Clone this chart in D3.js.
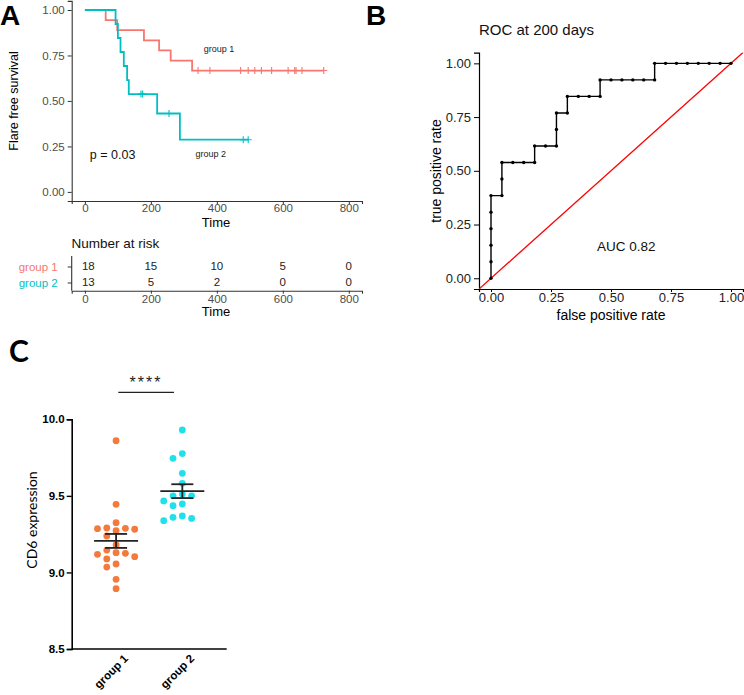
<!DOCTYPE html>
<html>
<head>
<meta charset="utf-8">
<script src="https://cdn.jsdelivr.net/npm/d3@7"></script>
<style>
  body { margin: 0; background: #fff; }
  svg { display: block; }
  text { font-family: "Liberation Sans", Arial, sans-serif; }
</style>
</head>
<body>
<div id="chart"></div>
<script>
// ---- panel A: Kaplan-Meier steps (time, survival) and censor times
const kmTimes1 = [0, 63, 98, 179, 225, 260, 325, 724];
const kmSurv1 = [1, 0.944, 0.889, 0.833, 0.778, 0.722, 0.667, 0.667];
const kmCensor1 = [343, 379, 472, 495, 515, 535, 566, 616, 636, 640, 658, 724];

const kmTimes2 = [0, 93, 100, 108, 118, 128, 133, 219, 288, 495];
const kmSurv2 = [1, 0.923, 0.846, 0.769, 0.692, 0.615, 0.538, 0.431, 0.287, 0.287];
const kmCensor2 = [170, 175, 255, 480, 495];

const kmGroups = ["group 1", "group 2"];
const riskTimes = [0, 200, 400, 600, 800];
const riskGroup1 = [18, 15, 10, 5, 0];
const riskGroup2 = [13, 5, 2, 0, 0];

// ---- panel B: ROC points (false positive rate, true positive rate)
const rocFpr = [0, 0, 0, 0, 0, 0,
  1/22, 1/22, 1/22, 2/22, 3/22, 4/22, 4/22, 5/22, 6/22, 6/22, 6/22,
  7/22, 7/22, 8/22, 9/22, 10/22, 10/22, 11/22, 12/22, 13/22, 14/22, 15/22,
  15/22, 16/22, 17/22, 18/22, 19/22, 20/22, 21/22, 1];
const rocTpr = [0, 1/13, 2/13, 3/13, 4/13, 5/13,
  5/13, 6/13, 7/13, 7/13, 7/13, 7/13, 8/13, 8/13, 8/13, 9/13, 10/13,
  10/13, 11/13, 11/13, 11/13, 11/13, 12/13, 12/13, 12/13, 12/13, 12/13, 12/13,
  1, 1, 1, 1, 1, 1, 1, 1];
const aucLabel = "AUC 0.82";

// ---- panel C: CD6 expression
const cdGroups = ["group 1", "group 2"];
const cd6Group1 = [9.86, 9.445, 9.325, 9.29, 9.288, 9.286, 9.282, 9.273, 9.238, 9.18,
  9.146, 9.129, 9.125, 9.118, 9.103, 9.088, 9.055, 9.035, 8.955, 8.894];
const cd6Group2 = [9.93, 9.776, 9.745, 9.647, 9.582, 9.512, 9.5, 9.5, 9.467, 9.447,
  9.436, 9.369, 9.36, 9.353, 9.338];
const cdTicks = [8.5, 9.0, 9.5, 10.0];

const kmColors = ["#F8766D", "#00BFC4"];
const dotColors = ["#F47A3C", "#1FE1EC"];

const svg = d3.select("#chart").append("svg")
    .attr("width", 744)
    .attr("height", 695);

// panel letters
svg.append("text").attr("x", 0).attr("y", 25).text("A")
    .style("font-size", "28px").style("font-weight", "bold");
svg.append("text").attr("x", 366).attr("y", 25).text("B")
    .style("font-size", "28px").style("font-weight", "bold");
svg.append("text").attr("x", 9).attr("y", 362).text("C")
    .style("font-family", "Lato, sans-serif")
    .style("font-size", "30px").style("font-weight", "bold");

// ================= A: survival curve =================
const xA = d3.scaleLinear().domain([-40, 840]).range([71.7, 362]);
const yA = d3.scaleLinear().domain([-0.05, 1.05]).range([201, 0.9]);

const gA = svg.append("g");
const axA = gA.append("g").attr("transform", "translate(0,201)")
    .call(d3.axisBottom(xA).tickValues(riskTimes).tickSize(3).tickPadding(0));
const ayA = gA.append("g").attr("transform", "translate(71.7,0)")
    .call(d3.axisLeft(yA).tickValues([0, 0.25, 0.5, 0.75, 1]).tickFormat(d3.format(".2f")).tickSize(4).tickPadding(3));
[axA, ayA].forEach(a => {
    a.select(".domain").attr("stroke", "#333").attr("stroke-width", 1.1);
    a.selectAll(".tick line").attr("stroke", "#333");
    a.selectAll(".tick text").attr("fill", "#4d4d4d").style("font-size", "11.5px")
        .style("font-family", "Liberation Sans, Arial, sans-serif");
});
gA.append("text").attr("x", 216).attr("y", 224).attr("text-anchor", "middle")
    .attr("dominant-baseline", "middle").style("font-size", "13px").text("Time");
gA.append("text").attr("transform", "translate(15,101) rotate(-90)")
    .attr("text-anchor", "middle").attr("dominant-baseline", "middle")
    .style("font-size", "12.5px").text("Flare free survival");

const kmLine = d3.line().curve(d3.curveStepAfter).x(d => xA(d[0])).y(d => yA(d[1]));
const kmSets = [
    {times: kmTimes1, surv: kmSurv1, censor: kmCensor1},
    {times: kmTimes2, surv: kmSurv2, censor: kmCensor2}
];
kmSets.forEach((s, i) => {
    const pts = s.times.map((t, j) => [t, s.surv[j]]);
    gA.append("path").attr("d", kmLine(pts)).attr("fill", "none")
        .attr("stroke", kmColors[i]).attr("stroke-width", 1.8);
    const survAt = t => {
        let v = s.surv[0];
        s.times.forEach((tt, j) => { if (tt <= t) v = s.surv[j]; });
        return v;
    };
    s.censor.forEach(t => {
        const cx = xA(t), cy = yA(survAt(t));
        gA.append("path").attr("d", `M${cx - 3.5},${cy}H${cx + 3.5}M${cx},${cy - 3.5}V${cy + 3.5}`)
            .attr("stroke", kmColors[i]).attr("stroke-width", 1.1);
    });
});
gA.append("text").attr("x", xA(360)).attr("y", yA(0.78)).attr("dominant-baseline", "middle")
    .style("font-size", "9px").attr("fill", "#222").text(kmGroups[0]);
gA.append("text").attr("x", xA(335)).attr("y", yA(0.203)).attr("dominant-baseline", "middle")
    .style("font-size", "9px").attr("fill", "#222").text(kmGroups[1]);
gA.append("text").attr("x", xA(15)).attr("y", yA(0.198)).attr("dominant-baseline", "middle")
    .style("font-size", "12.5px").attr("fill", "#111").text("p = 0.03");

// risk table
const gR = svg.append("g");
gR.append("text").attr("x", 71.5).attr("y", 244).attr("dominant-baseline", "middle")
    .style("font-size", "13.5px").attr("fill", "#111").text("Number at risk");
const yR = d3.scalePoint().domain(kmGroups).range([266.5, 282.5]);
const axR = gR.append("g").attr("transform", "translate(0,290.7)")
    .call(d3.axisBottom(xA).tickValues(riskTimes).tickSize(3).tickPadding(1));
const ayR = gR.append("g").attr("transform", "translate(71.7,0)")
    .call(d3.axisLeft(yR).tickSize(4).tickPadding(8));
[axR, ayR].forEach(a => {
    a.select(".domain").attr("stroke", "#333").attr("stroke-width", 1.1);
    a.selectAll(".tick line").attr("stroke", "#333");
    a.selectAll(".tick text").style("font-size", "11.5px")
        .style("font-family", "Liberation Sans, Arial, sans-serif");
});
axR.selectAll(".tick text").attr("fill", "#4d4d4d");
ayR.select(".domain").attr("d", "M0,256V290.7");
ayR.selectAll(".tick text").attr("fill", (d, i) => kmColors[i]).attr("x", -14);
gR.append("text").attr("x", 216).attr("y", 313).attr("text-anchor", "middle")
    .attr("dominant-baseline", "middle").style("font-size", "13px").text("Time");
[riskGroup1, riskGroup2].forEach((row, i) => {
    gR.selectAll(null).data(row).join("text")
        .attr("x", (d, j) => xA(riskTimes[j]))
        .attr("y", yR(kmGroups[i]))
        .attr("text-anchor", (d, j) => j === 0 ? "start" : "middle")
        .attr("dx", (d, j) => j === 0 ? -3 : 0)
        .attr("dominant-baseline", "middle")
        .style("font-size", "11.5px").attr("fill", "#222")
        .text(d => d);
});

// ================= B: ROC =================
const xB = d3.scaleLinear().domain([-0.05, 1.05]).range([479, 743]);
const yB = d3.scaleLinear().domain([-0.05, 1.05]).range([289, 52.6]);
const gB = svg.append("g");
const axB = gB.append("g").attr("transform", "translate(0,289)")
    .call(d3.axisBottom(xB).tickValues([0, 0.25, 0.5, 0.75, 1]).tickFormat(d3.format(".2f")).tickSize(3).tickPadding(1));
const ayB = gB.append("g").attr("transform", "translate(479,0)")
    .call(d3.axisLeft(yB).tickValues([0, 0.25, 0.5, 0.75, 1]).tickFormat(d3.format(".2f")).tickSize(5).tickPadding(3));
[axB, ayB].forEach(a => {
    a.select(".domain").attr("stroke", "#000").attr("stroke-width", 1.2);
    a.selectAll(".tick line").attr("stroke", "#000");
    a.selectAll(".tick text").attr("fill", "#222").style("font-size", "13px")
        .style("font-family", "Liberation Sans, Arial, sans-serif");
});
gB.append("defs").append("clipPath").attr("id", "clipB").append("rect")
    .attr("x", 479).attr("y", 52.6).attr("width", 265).attr("height", 236.4);
gB.append("line").attr("clip-path", "url(#clipB)")
    .attr("x1", xB(-0.05)).attr("y1", yB(-0.05)).attr("x2", xB(1.05)).attr("y2", yB(1.05))
    .attr("stroke", "#ff0000").attr("stroke-width", 1.3);
const rocPts = rocFpr.map((f, i) => [f, rocTpr[i]]);
gB.append("path").attr("d", d3.line().x(d => xB(d[0])).y(d => yB(d[1]))(rocPts))
    .attr("fill", "none").attr("stroke", "#000").attr("stroke-width", 1.4);
gB.selectAll("circle").data(rocPts).join("circle")
    .attr("cx", d => xB(d[0])).attr("cy", d => yB(d[1])).attr("r", 1.7).attr("fill", "#000");
gB.append("text").attr("x", 479).attr("y", 31).attr("dominant-baseline", "middle")
    .style("font-size", "15px").attr("fill", "#111").text("ROC at 200 days");
gB.append("text").attr("x", 597).attr("y", 247).attr("dominant-baseline", "middle")
    .style("font-size", "13.5px").attr("fill", "#111").text(aucLabel);
gB.append("text").attr("transform", "translate(437,171) rotate(-90)")
    .attr("text-anchor", "middle").attr("dominant-baseline", "middle")
    .style("font-size", "14px").text("true positive rate");
gB.append("text").attr("x", 611).attr("y", 316).attr("text-anchor", "middle")
    .attr("dominant-baseline", "middle").style("font-size", "14px").text("false positive rate");

// ================= C: dot plot =================
const xC = d3.scalePoint().domain(cdGroups).range([71.7, 226.7]).padding(0.67);
const yC = d3.scaleLinear().domain([8.5, 10]).range([649, 419.3]);
const gC = svg.append("g");
const axC = gC.append("g").attr("transform", "translate(0,649)")
    .call(d3.axisBottom(xC).tickSize(0).tickPadding(6));
const ayC = gC.append("g").attr("transform", "translate(71.7,0)")
    .call(d3.axisLeft(yC).tickValues(cdTicks).tickFormat(d3.format(".1f")).tickSize(5).tickPadding(2));
[axC, ayC].forEach(a => {
    a.select(".domain").attr("stroke", "#000").attr("stroke-width", 1.6);
    a.selectAll(".tick line").attr("stroke", "#000").attr("stroke-width", 1.4);
    a.selectAll(".tick text").attr("fill", "#000").style("font-size", "11.5px")
        .style("font-weight", "bold").style("font-family", "Liberation Sans, Arial, sans-serif");
});
axC.select(".domain").attr("d", "M71.7,0H226.7");
axC.selectAll(".tick text")
    .attr("text-anchor", "end")
    .attr("transform", "translate(4,2) rotate(-45)")
    .attr("dy", "0.5em");

gC.append("text").attr("transform", "translate(33,520) rotate(-90)")
    .attr("text-anchor", "middle").attr("dominant-baseline", "middle")
    .style("font-family", "Lato, sans-serif").style("font-size", "14px").text("CD6 expression");

// simple column swarm: each point takes the nearest free column slot
function swarm(values, sep) {
    const cols = {};
    const order = [0, -1, 1, -2, 2, -3, 3];
    return values.map(v => {
        const y = yC(v);
        for (const c of order) {
            const used = cols[c] || [];
            if (used.every(u => Math.abs(u - y) >= sep)) {
                used.push(y);
                cols[c] = used;
                return {v, col: c};
            }
        }
        return {v, col: 0};
    });
}

const colStep = 9.3;
[cd6Group1, cd6Group2].forEach((vals, i) => {
    const cx = xC(cdGroups[i]);
    const sorted = vals.slice().sort((a, b) => b - a);
    const pts = swarm(sorted, 7.2);
    gC.selectAll(null).data(pts).join("circle")
        .attr("cx", d => cx + d.col * colStep)
        .attr("cy", d => yC(d.v))
        .attr("r", 3.4)
        .attr("fill", dotColors[i]);
    const m = d3.mean(vals);
    const sem = d3.deviation(vals) / Math.sqrt(vals.length);
    const gm = gC.append("g").attr("stroke", "#222").attr("stroke-width", 1.8);
    gm.append("line").attr("x1", cx - 22).attr("x2", cx + 22).attr("y1", yC(m)).attr("y2", yC(m));
    gm.append("line").attr("x1", cx).attr("x2", cx).attr("y1", yC(m - sem)).attr("y2", yC(m + sem));
    [m - sem, m + sem].forEach(v => {
        gm.append("line").attr("x1", cx - 11).attr("x2", cx + 11).attr("y1", yC(v)).attr("y2", yC(v));
    });
});

gC.append("line").attr("x1", 118.3).attr("x2", 174).attr("y1", 392.3).attr("y2", 392.3)
    .attr("stroke", "#222").attr("stroke-width", 1.3);
gC.append("text").attr("x", 146).attr("y", 384).attr("text-anchor", "middle")
    .attr("dominant-baseline", "middle").style("font-size", "16px")
    .style("letter-spacing", "2px").attr("fill", "#222").text("****");
</script>
</body>
</html>
